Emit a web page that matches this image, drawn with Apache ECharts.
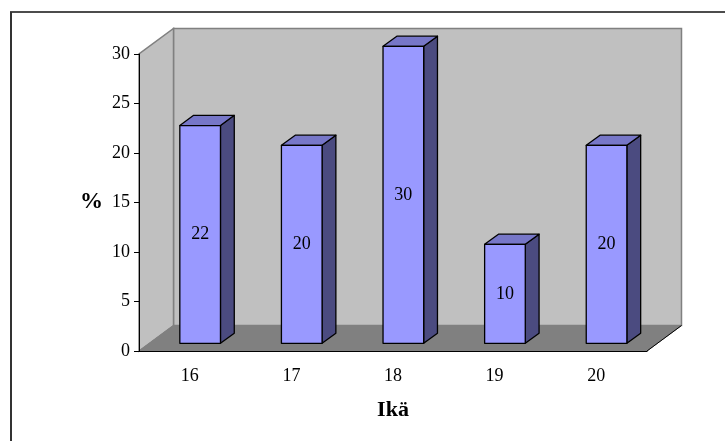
<!DOCTYPE html>
<html>
<head>
<meta charset="utf-8">
<script src="https://cdn.jsdelivr.net/npm/echarts@6/dist/echarts.min.js"></script>
<style>
  html, body { margin: 0; padding: 0; background: #fff; }
  #chart { width: 725px; height: 441px; }
</style>
</head>
<body>
<div id="chart"></div>
<script>
// Age groups and their share in percent
const categories = ['16', '17', '18', '19', '20'];
const values = [22, 20, 30, 10, 20];
const yTicks = { min: 0, max: 30, interval: 5 };

// Oblique projection used for the 3D look (pixel offset of the full depth)
const DEPTH = [34.5, -25.5];
const BAR_FRONT = 0.3;   // bar front face, as a fraction of the depth
const BAR_BACK = 0.7;    // bar back face
const BAR_WIDTH = 1 / 2.5; // bar width relative to the category band

const FONT = '"Liberation Serif", "Times New Roman", serif';

const chart = echarts.init(document.getElementById('chart'), null, { renderer: 'canvas' });

function shift(p, f) {
  return [p[0] + DEPTH[0] * f, p[1] + DEPTH[1] * f];
}

// Back wall, side wall and floor
function renderWalls(params, api) {
  const bw = api.size([1, 0])[0];
  const first = api.coord([0, yTicks.min]);
  const last = api.coord([categories.length - 1, yTicks.min]);
  const top = api.coord([0, yTicks.max]);
  const x0 = first[0] - bw / 2, x1 = last[0] + bw / 2;
  const y0 = first[1], yT = top[1];
  const fl = [x0, y0], fr = [x1, y0], tl = [x0, yT], tr = [x1, yT];
  return {
    type: 'group',
    children: [
      { type: 'polygon', shape: { points: [shift(fl, 1), shift(fr, 1), shift(tr, 1), shift(tl, 1)] },
        style: { fill: '#C0C0C0', stroke: '#808080', lineWidth: 1.5 } },
      { type: 'polygon', shape: { points: [fl, tl, shift(tl, 1), shift(fl, 1)] },
        style: { fill: '#C0C0C0', stroke: '#808080', lineWidth: 1.5 } },
      { type: 'polygon', shape: { points: [fl, fr, shift(fr, 1), shift(fl, 1)] },
        style: { fill: '#808080', stroke: '#808080', lineWidth: 1 } },
      { type: 'line', shape: { x1: fr[0], y1: fr[1], x2: shift(fr, 1)[0], y2: shift(fr, 1)[1] },
        style: { stroke: '#000', lineWidth: 1 } }
    ]
  };
}

// One prism per category
function renderBar(params, api) {
  const idx = api.value(0);
  const val = api.value(1);
  const bw = api.size([1, 0])[0] * BAR_WIDTH;
  const topC = api.coord([idx, val]);
  const baseC = api.coord([idx, yTicks.min]);
  const l = topC[0] - bw / 2, r = topC[0] + bw / 2;
  const FTL = shift([l, topC[1]], BAR_FRONT), FTR = shift([r, topC[1]], BAR_FRONT);
  const FBL = shift([l, baseC[1]], BAR_FRONT), FBR = shift([r, baseC[1]], BAR_FRONT);
  const BTL = shift([l, topC[1]], BAR_BACK), BTR = shift([r, topC[1]], BAR_BACK);
  const BBR = shift([r, baseC[1]], BAR_BACK);
  const edge = { stroke: '#000', lineWidth: 1.3, lineJoin: 'round' };
  return {
    type: 'group',
    children: [
      { type: 'polygon', shape: { points: [FTR, BTR, BBR, FBR] },
        style: Object.assign({ fill: '#4B4B80' }, edge) },
      { type: 'polygon', shape: { points: [FTL, BTL, BTR, FTR] },
        style: Object.assign({ fill: '#7777C8' }, edge) },
      { type: 'polygon', shape: { points: [FTL, FTR, FBR, FBL] },
        style: Object.assign({ fill: '#9999FF' }, edge) },
      { type: 'text',
        style: { text: String(val), x: (FTL[0] + FTR[0]) / 2, y: (FTL[1] + FBL[1]) / 2,
                 align: 'center', verticalAlign: 'middle',
                 font: '18px ' + FONT, fill: '#000' } }
    ]
  };
}

chart.setOption({
  animation: false,
  backgroundColor: '#fff',
  grid: { left: 139, right: 78, top: 54, bottom: 90 },
  xAxis: {
    type: 'category',
    data: categories,
    z: 5,
    name: 'Ikä',
    nameLocation: 'middle',
    nameGap: 48,
    nameTextStyle: { fontFamily: FONT, fontSize: 22, fontWeight: 'bold', color: '#000' },
    axisLine: { lineStyle: { color: '#000', width: 1 } },
    axisTick: { length: 5, lineStyle: { color: '#000' } },
    axisLabel: { margin: 16, fontFamily: FONT, fontSize: 18, color: '#000' },
    splitLine: { show: false }
  },
  yAxis: {
    type: 'value',
    min: yTicks.min, max: yTicks.max, interval: yTicks.interval,
    z: 5,
    name: '%',
    nameLocation: 'middle',
    nameRotate: 0,
    nameGap: 36,
    nameTextStyle: { fontFamily: FONT, fontSize: 23, fontWeight: 'bold', color: '#000' },
    axisLine: { show: true, lineStyle: { color: '#000', width: 1 } },
    axisTick: { show: true, length: 5, lineStyle: { color: '#000' } },
    axisLabel: { margin: 9, fontFamily: FONT, fontSize: 18, color: '#000' },
    splitLine: { show: false }
  },
  series: [
    { type: 'custom', z: 1, silent: true, renderItem: renderWalls, data: [[0, 0]] },
    { type: 'custom', z: 3, renderItem: renderBar,
      data: values.map((v, i) => [i, v]) }
  ],
  graphic: [
    { type: 'line', shape: { x1: 10, y1: 12, x2: 725, y2: 12 }, style: { stroke: '#111', lineWidth: 1.5 } },
    { type: 'line', shape: { x1: 11, y1: 12, x2: 11, y2: 441 }, style: { stroke: '#333', lineWidth: 2 } }
  ]
});
</script>
</body>
</html>
